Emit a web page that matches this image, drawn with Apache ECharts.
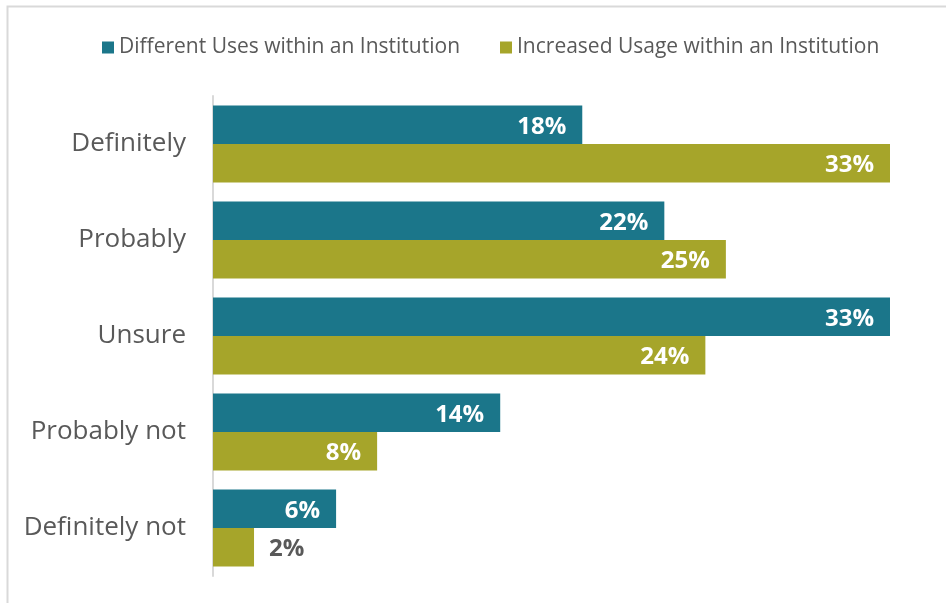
<!DOCTYPE html>
<html>
<head>
<meta charset="utf-8">
<script src="https://cdn.jsdelivr.net/npm/echarts@6/dist/echarts.min.js"></script>
<style>
  html, body { margin: 0; padding: 0; background: #ffffff; }
  #chart { width: 946px; height: 603px; }
</style>
</head>
<body>
<div id="chart"></div>
<script>
// Survey answers, listed top to bottom
const categories = ['Definitely', 'Probably', 'Unsure', 'Probably not', 'Definitely not'];
const seriesNames = ['Different Uses within an Institution', 'Increased Usage within an Institution'];
// Share of respondents (%)
const differentUses = [18, 22, 33, 14, 6];
const increasedUsage = [33, 25, 24, 8, 2];

const FONT = '"Open Sans", "Noto Sans", sans-serif';
const TEAL = '#1b768a';
const OLIVE = '#a6a52a';
const GREY = '#595959';

// Small bars get their label outside, in grey
function labelled(values) {
  return values.map(v => {
    const item = { value: v };
    if (v < 4) {
      item.label = { position: 'right', distance: 15, color: GREY };
    }
    return item;
  });
}

const barLabel = {
  show: true,
  position: 'insideRight',
  distance: 16,
  offset: [0, 2],
  formatter: '{c}%',
  fontFamily: FONT,
  fontWeight: 'bold',
  fontSize: 24,
  color: '#ffffff'
};

const chart = echarts.init(document.getElementById('chart'), null, { renderer: 'canvas' });
chart.setOption({
  animation: false,
  textStyle: { fontFamily: FONT },
  graphic: [{
    type: 'rect',
    shape: { x: 7.5, y: 6.5, width: 1000, height: 700 },
    style: { fill: 'none', stroke: '#d9d9d9', lineWidth: 2 },
    silent: true
  }],
  legend: {
    data: seriesNames,
    top: 32,
    left: 97,
    itemWidth: 12,
    itemHeight: 12,
    itemGap: 40,
    icon: 'rect',
    textStyle: { fontFamily: FONT, fontSize: 21, color: GREY }
  },
  grid: { left: 213, right: 56, top: 96, bottom: 27 },
  xAxis: {
    type: 'value',
    min: 0,
    max: 33,
    show: false
  },
  yAxis: {
    type: 'category',
    data: categories,
    inverse: true,
    axisLine: { show: true, lineStyle: { color: '#d9d9d9', width: 2 } },
    axisTick: { show: false },
    axisLabel: { margin: 27, padding: [5, 0, 0, 0], fontFamily: FONT, fontSize: 26, color: GREY }
  },
  series: [
    {
      name: seriesNames[0],
      type: 'bar',
      data: labelled(differentUses),
      itemStyle: { color: TEAL },
      barGap: '0%',
      barCategoryGap: '20%',
      label: barLabel
    },
    {
      name: seriesNames[1],
      type: 'bar',
      data: labelled(increasedUsage),
      itemStyle: { color: OLIVE },
      barGap: '0%',
      barCategoryGap: '20%',
      label: barLabel
    }
  ]
});
</script>
</body>
</html>
